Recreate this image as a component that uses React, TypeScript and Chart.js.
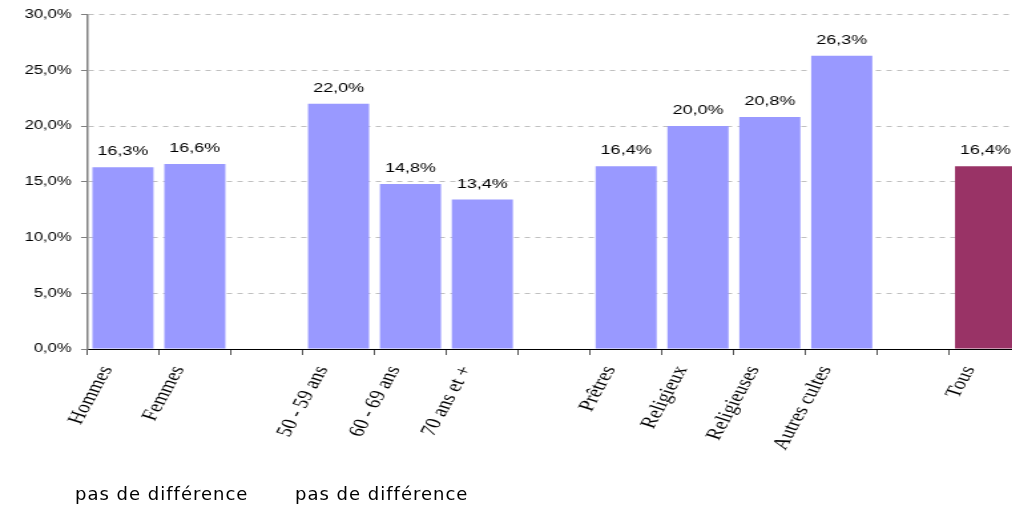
import React, { useEffect, useRef } from 'react';
import { Chart, registerables } from 'chart.js';

Chart.register(...registerables);

const categories = [
  'Hommes', 'Femmes', '',
  '50 - 59 ans', '60 - 69 ans', '70 ans et +', '',
  'Prêtres', 'Religieux', 'Religieuses', 'Autres cultes', '',
  'Tous',
];
const values: (number | null)[] = [16.3, 16.6, null, 22.0, 14.8, 13.4, null, 16.4, 20.0, 20.8, 26.3, null, 16.4];
const highlightCategory = 'Tous';
const yMin = 0;
const yMax = 30;
const yStep = 5;
const footnotes = ['pas de différence', 'pas de différence'];
const footnoteX = [75, 295];

const STRETCH = 1.33;
const CANVAS_W = 768;
const CANVAS_H = 510;

const fmt = (v: number) => v.toFixed(1).replace('.', ',') + '%';

const valueLabels = {
  id: 'valueLabels',
  afterDatasetsDraw(chart: any) {
    const ctx = chart.ctx;
    const meta = chart.getDatasetMeta(0);
    ctx.save();
    ctx.font = '13.5px "Liberation Sans", Arial, sans-serif';
    ctx.fillStyle = '#000';
    ctx.textAlign = 'center';
    ctx.textBaseline = 'alphabetic';
    meta.data.forEach((bar: any, i: number) => {
      const v = values[i];
      if (v == null) return;
      ctx.fillText(fmt(v), bar.x, bar.y - 12);
    });
    ctx.restore();
  },
};

export default function App() {
  const ref = useRef<HTMLCanvasElement>(null);
  useEffect(() => {
    if (!ref.current) return;
    const chart = new Chart(ref.current, {
      type: 'bar',
      data: {
        labels: categories,
        datasets: [
          {
            data: values,
            backgroundColor: categories.map((c) => (c === highlightCategory ? '#993366' : '#9999FF')),
            barPercentage: 0.85,
            categoryPercentage: 1,
          },
        ],
      },
      options: {
        animation: false,
        responsive: false,
        maintainAspectRatio: false,
        devicePixelRatio: 1,
        layout: { padding: { top: 14, right: 0, left: 0, bottom: 0 } },
        plugins: { legend: { display: false }, tooltip: { enabled: false } },
        scales: {
          x: {
            type: 'category',
            offset: true,
            grid: {
              offset: true,
              drawOnChartArea: false,
              drawTicks: true,
              tickLength: 6,
              tickColor: '#555',
            },
            border: { display: true, color: '#000', width: 1 },
            ticks: {
              autoSkip: false,
              minRotation: 67,
              maxRotation: 67,
              padding: 8,
              labelOffset: -12,
              color: '#000',
              font: { family: '"Liberation Serif", "Times New Roman", serif', size: 17 },
            },
            afterFit: (s: any) => {
              s.height = 161;
            },
          },
          y: {
            min: yMin,
            max: yMax,
            ticks: {
              stepSize: yStep,
              padding: 7,
              color: '#000',
              font: { family: '"Liberation Sans", Arial, sans-serif', size: 12.5 },
              callback: (v: any) => fmt(Number(v)),
            },
            grid: {
              color: (c: any) => (c.tick && c.tick.value === 0 ? 'rgba(0,0,0,0)' : '#c0c0c0'),
              tickColor: '#808080',
              tickLength: 4.5,
              drawTicks: true,
            },
            border: { display: true, color: '#808080', width: 1.5, dash: [4, 4] },
            afterFit: (s: any) => {
              s.width = 87 / STRETCH;
            },
          },
        },
      },
      plugins: [valueLabels],
    });
    return () => chart.destroy();
  }, []);

  return (
    <div style={{ position: 'absolute', left: 0, top: 0, width: 1012, height: 510, overflow: 'hidden', background: '#fff' }}>
      <canvas
        ref={ref}
        width={CANVAS_W}
        height={CANVAS_H}
        style={{ transform: `scaleX(${STRETCH})`, transformOrigin: '0 0' }}
      />
      {footnotes.map((t, i) => (
        <div
          key={i}
          style={{
            position: 'absolute',
            left: footnoteX[i],
            top: 485,
            fontFamily: '"Comic Sans MS", "DejaVu Sans", sans-serif',
            fontSize: 18,
            lineHeight: '18px',
            letterSpacing: 1,
            color: '#000',
            whiteSpace: 'nowrap',
          }}
        >
          {t}
        </div>
      ))}
    </div>
  );
}
